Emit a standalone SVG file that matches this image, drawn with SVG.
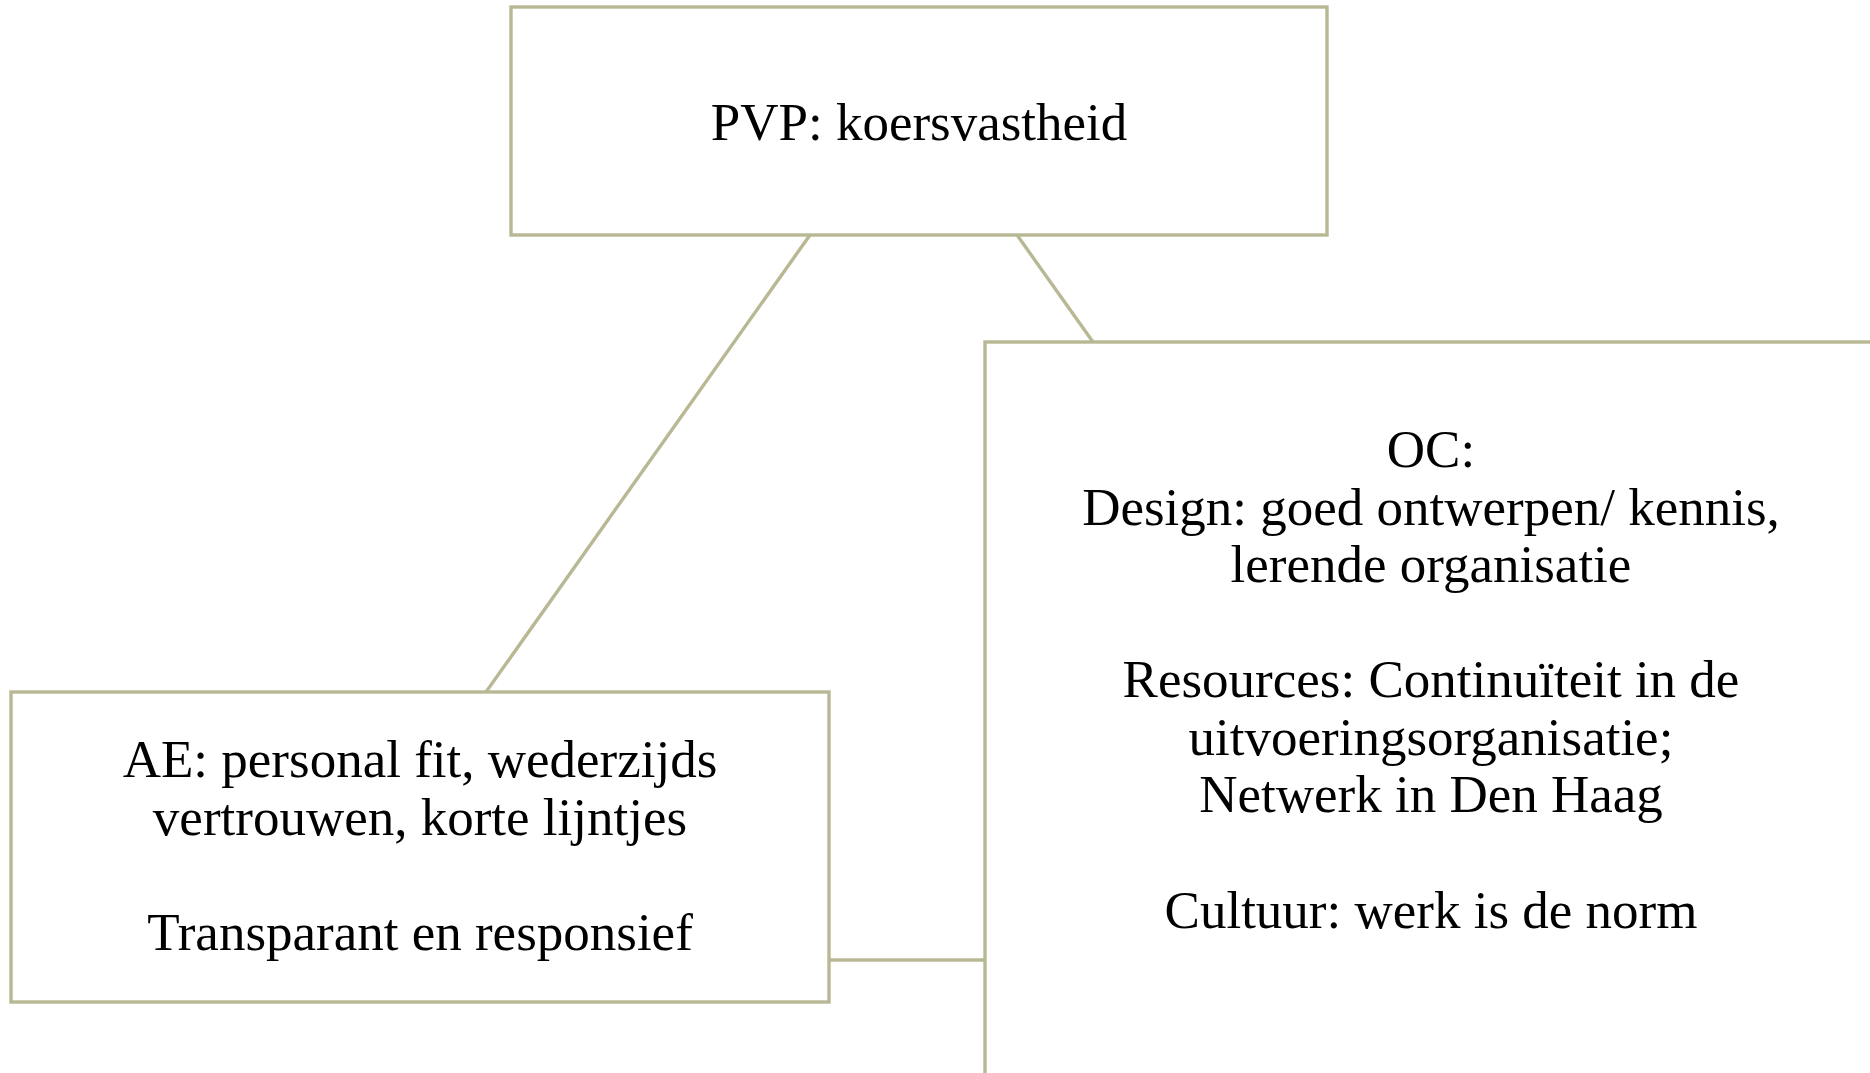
<svg xmlns="http://www.w3.org/2000/svg" width="1870" height="1073" viewBox="0 0 1870 1073">
<style>
.box{fill:#ffffff;stroke:#b8b894;stroke-width:3.4}
.conn{stroke:#b8b894;stroke-width:3.4;fill:none}
.t{font-family:"Liberation Serif","DejaVu Serif",serif;font-size:53px;fill:#000000;text-anchor:middle}
</style>
<rect width="1870" height="1073" fill="#ffffff"/>
<g id="connectors">
<line class="conn" x1="810" y1="235" x2="486" y2="692"/>
<line class="conn" x1="1017" y1="235" x2="1093" y2="342"/>
<line class="conn" x1="829" y1="960" x2="985" y2="960"/>
</g>
<g id="node-pvp">
<rect class="box" x="511" y="7" width="816" height="228"/>
<text class="t" x="919" y="140">PVP: koersvastheid</text>
</g>
<g id="node-oc">
<rect class="box" x="985" y="342" width="920" height="760"/>
<text class="t" x="1431" y="467">OC:</text>
<text class="t" x="1431" y="525">Design: goed ontwerpen/ kennis,</text>
<text class="t" x="1431" y="582">lerende organisatie</text>
<text class="t" x="1431" y="697">Resources: Continuïteit in de</text>
<text class="t" x="1431" y="755">uitvoeringsorganisatie;</text>
<text class="t" x="1431" y="812">Netwerk in Den Haag</text>
<text class="t" x="1431" y="928">Cultuur: werk is de norm</text>
</g>
<g id="node-ae">
<rect class="box" x="11" y="692" width="818" height="310"/>
<text class="t" x="420" y="777">AE: personal fit, wederzijds</text>
<text class="t" x="420" y="835">vertrouwen, korte lijntjes</text>
<text class="t" x="420" y="950">Transparant en responsief</text>
</g>
</svg>
